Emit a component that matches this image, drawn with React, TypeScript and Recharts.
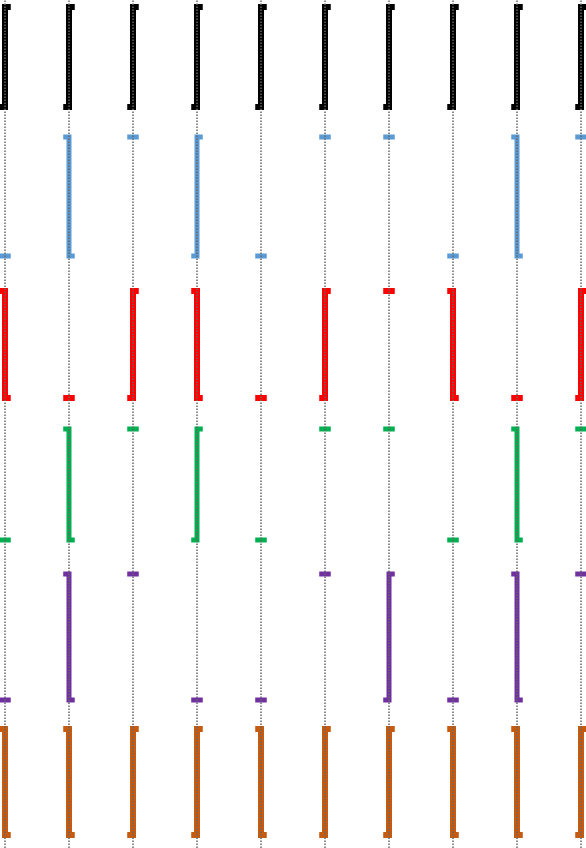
import React from "react";
import { ComposedChart, Line, XAxis, YAxis, ReferenceLine } from "recharts";

// R = rising edge, F = falling edge, H = held high, L = held low
type Edge = "R" | "F" | "H" | "L";

const COLUMNS = [0, 1, 2, 3, 4, 5, 6, 7, 8, 9];

const black: Edge[] = ["R", "R", "R", "R", "R", "R", "R", "R", "R", "R"];
const blue: Edge[] = ["L", "F", "H", "R", "L", "H", "H", "L", "F", "H"];
const red: Edge[] = ["F", "L", "R", "F", "L", "R", "H", "F", "L", "R"];
const green: Edge[] = ["L", "F", "H", "R", "L", "H", "H", "L", "F", "H"];
const purple: Edge[] = ["L", "F", "H", "L", "L", "H", "R", "L", "F", "H"];
const orange: Edge[] = ["F", "F", "R", "R", "F", "R", "R", "F", "F", "R"];

const SIGNALS = [
  { key: "black", edges: black, color: "#000000", width: 6, high: 7, low: 107 },
  { key: "blue", edges: blue, color: "#5b9bd5", width: 5, high: 137, low: 256 },
  { key: "red", edges: red, color: "#ff0000", width: 6, high: 291, low: 398 },
  { key: "green", edges: green, color: "#00b050", width: 5, high: 429, low: 540 },
  { key: "purple", edges: purple, color: "#7030a0", width: 5, high: 574, low: 700 },
  { key: "orange", edges: orange, color: "#c55a11", width: 6, high: 729, low: 835 },
];

const HALF_STEP = 0.09;

const levels: Record<Edge, [number, number]> = {
  R: [0, 1],
  F: [1, 0],
  H: [1, 1],
  L: [0, 0],
};

// three points per column (before, edge, after) then a null row to break the path
const rows: Record<string, number | null>[] = [];
COLUMNS.forEach((c) => {
  const before: Record<string, number | null> = { x: c - HALF_STEP };
  const edge: Record<string, number | null> = { x: c };
  const after: Record<string, number | null> = { x: c + HALF_STEP };
  const gap: Record<string, number | null> = { x: c + 0.5 };
  SIGNALS.forEach((s) => {
    const [b, a] = levels[s.edges[c]];
    before[s.key] = b ? s.high : s.low;
    edge[s.key] = a ? s.high : s.low;
    after[s.key] = a ? s.high : s.low;
    gap[s.key] = null;
  });
  rows.push(before, edge, after, gap);
});

export default function App() {
  return (
    <div style={{ position: "absolute", left: 0, top: 0, background: "#fff" }}>
      <ComposedChart
        width={586}
        height={848}
        data={rows}
        margin={{ top: 0, right: 0, bottom: 0, left: 0 }}
      >
        <XAxis
          dataKey="x"
          type="number"
          domain={[-0.078, 9.078]}
          hide
          allowDataOverflow
        />
        <YAxis type="number" domain={[0, 848]} reversed hide allowDataOverflow />
        {SIGNALS.map((s) => (
          <Line
            key={s.key}
            dataKey={s.key}
            type="stepAfter"
            stroke={s.color}
            strokeWidth={s.width}
            strokeLinejoin="miter"
            dot={false}
            activeDot={false}
            isAnimationActive={false}
          />
        ))}
        {COLUMNS.map((c) => (
          <ReferenceLine
            key={c}
            x={c}
            stroke="#666666"
            strokeWidth={1.5}
            strokeDasharray="1.5 1.5"
          />
        ))}
      </ComposedChart>
    </div>
  );
}
